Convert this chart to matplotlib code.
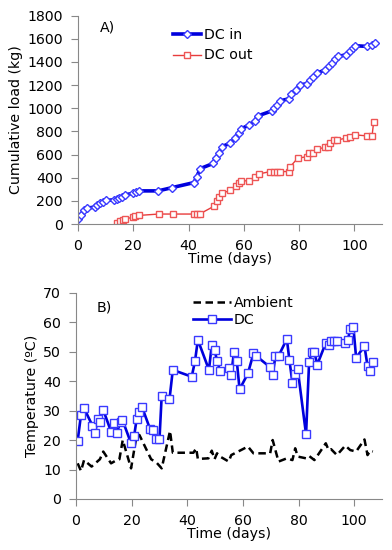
import matplotlib
matplotlib.use("Agg")
import matplotlib.pyplot as plt

# A) cumulative load (kg)
days_in = [0, 1.2, 2, 3.3, 6, 7, 8, 9, 10, 13, 14, 15, 16, 17, 20, 21, 22, 29, 34,
           42, 43, 44.2, 49, 50, 51.2, 52, 55, 56.9, 58.1, 59, 62, 63.9, 65.1,
           70.2, 71, 72, 73.2, 76.2, 77.2, 79, 80.2, 82.8, 84, 85, 86.5, 89.5,
           90.7, 91.9, 92.9, 94.1, 97.1, 98.3, 99.5, 100.1, 104.6, 106.4, 107.4]
load_in = [46, 80, 123, 137, 146, 166, 180, 191, 203, 209, 217, 226, 237, 251, 266,
           277, 286, 286, 314, 358, 408, 478, 524, 567, 616, 668, 697, 740, 782,
           822, 856, 891, 934, 977, 1001, 1029, 1064, 1081, 1122, 1159, 1202,
           1211, 1246, 1269, 1303, 1332, 1361, 1390, 1425, 1447, 1462, 1490,
           1520, 1540, 1534, 1548, 1565]

days_out = [14.1, 15.3, 16.3, 17.1, 20, 20.7, 22, 29.2, 34.3, 41.9, 43.1, 44,
            49.3, 50.3, 51.1, 52.1, 55.1, 57, 58.1, 59, 62, 64.2, 65.4, 69.6,
            70.8, 72, 73.2, 76.2, 76.8, 79.5, 82.9, 83.7, 85, 86.5, 89.5, 90.5,
            91.2, 92.6, 93.8, 97.1, 98.3, 100.1, 104.6, 106.4, 107]
load_out = [9, 23, 37, 46, 57, 66, 74, 86, 86, 86, 86, 86, 155, 202, 237, 266,
            290, 331, 355, 373, 373, 410, 432, 453, 453, 453, 453, 453, 496, 568,
            582, 611, 617, 646, 663, 669, 698, 727, 727, 741, 755, 770, 761, 761,
            885]

# B) temperature (ºC)
days_dc = [0.6, 1.8, 2.9, 5.9, 6.8, 7.8, 8.6, 9.8, 12.6, 13.5, 14.6, 16, 16.7,
           19.8, 20.9, 21.8, 22.8, 23.7, 26.6, 27.8, 28.8, 30, 30.8, 33.6, 34.8,
           41.6, 42.8, 43.8, 47.8, 48.8, 49.8, 50.7, 51.8, 54.9, 55.8, 56.8,
           57.8, 58.8, 61.8, 63.8, 64.7, 69.8, 70.7, 71.7, 72.8, 75.8, 76.7,
           77.8, 78.8, 79.7, 82.7, 83.8, 84.8, 85.7, 86.7, 89.8, 90.8, 91.7,
           92.9, 93.8, 96.8, 97.7, 98.6, 99.7, 100.7, 103.7, 104.8, 105.8, 106.7]
temp_dc = [19.8, 28.6, 30.8, 24.9, 22.3, 27.1, 26.2, 30.2, 22.9, 25.9, 22.3,
           26.2, 26.8, 18.9, 21.4, 27.1, 29.6, 31.3, 23.8, 23.4, 20.2, 20.2,
           35.0, 33.8, 43.8, 41.5, 46.9, 54.0, 43.8, 52.3, 50.6, 46.9, 43.5,
           44.6, 42.1, 50.0, 46.9, 37.2, 42.6, 49.4, 48.6, 44.7, 42.1, 48.6,
           48.5, 54.3, 47.2, 39.5, 42.3, 44.0, 21.9, 46.6, 50.0, 50.0, 45.5,
           53.0, 52.3, 53.6, 53.6, 53.7, 53.0, 54.0, 57.6, 58.5, 47.9, 51.9,
           45.1, 43.5, 46.4]

days_amb = [0.6, 1.8, 2.9, 5.6, 8.6, 9.8, 12.6, 14.6, 15.6, 16.8, 19.8, 21.8,
            22.8, 27, 29, 30.8, 33.8, 34.8, 42.2, 43.2, 43.8, 47.6, 48.8, 49.8,
            50.7, 51.8, 54.9, 55.8, 61.8, 63.8, 69.8, 70.7, 72.8, 75.8, 77.8,
            78.8, 79.7, 82.7, 83.8, 85.7, 87.8, 89.8, 90.8, 91.7, 93.8, 96.8,
            98.6, 100.7, 103.7, 104.8, 105.8, 106.7]
temp_amb = [12.1, 9.5, 13.2, 11.0, 13.5, 16.1, 12.1, 13.2, 13.5, 20.0, 10.4,
            21.7, 21.7, 13.5, 12.3, 10.4, 23.1, 15.7, 15.7, 17.2, 13.6, 13.8,
            16.4, 13.5, 15.5, 14.4, 12.7, 14.9, 17.8, 15.5, 15.5, 20.0, 12.7,
            13.8, 13.2, 17.2, 14.4, 13.8, 14.6, 13.2, 16.1, 18.9, 16.6, 16.9,
            14.9, 18.1, 16.6, 16.1, 20.2, 14.9, 16.4, 16.1]

plt.rcParams['font.family'] = ['DejaVu Sans']
fs = 10.2

fig = plt.figure(figsize=(3.92, 5.5), dpi=100)
W, H = 392, 550
ax1 = fig.add_axes([78 / W, 1 - 224 / H, (382 - 78) / W, (224 - 15.6) / H])
ax2 = fig.add_axes([76 / W, 1 - 499 / H, (382 - 76) / W, (499 - 292.7) / H])

blue = '#0000dd'
mblue = '#3a3aff'
red = '#e83c3c'

ax1.plot(days_in, load_in, color=blue, lw=2.6, marker='D', ms=4.3,
         mfc='white', mec=mblue, mew=1.0, label='DC in')
ax1.plot(days_out, load_out, color=red, lw=1.0, marker='s', ms=4.5,
         mfc='white', mec='#ee5555', mew=1.0, label='DC out')
ax1.set_xlim(0, 110)
ax1.set_ylim(0, 1800)
ax1.set_xticks(range(0, 101, 20))
ax1.set_yticks(range(0, 1801, 200))
ax1.set_xlabel('Time (days)', labelpad=-1, fontsize=fs)
ax1.set_ylabel('Cumulative load (kg)', fontsize=fs, labelpad=3)
ax1.text(8, 1695, 'A)', va='center', ha='left', fontsize=fs)
ax1.legend(loc='upper left', bbox_to_anchor=(0.3125, 0.94), frameon=False,
           handlelength=2.0, handletextpad=0.2, borderaxespad=0, borderpad=0,
           labelspacing=0.45, fontsize=fs)

ax2.plot(days_amb, temp_amb, color='black', lw=1.8, ls=(0, (3, 1.8)),
         label='Ambient')
ax2.plot(days_dc, temp_dc, color=blue, lw=1.9, marker='s', ms=5.2,
         mfc='white', mec=mblue, mew=1.0, label='DC')
ax2.set_xlim(0, 110)
ax2.set_ylim(0, 70)
ax2.set_xticks(range(0, 101, 20))
ax2.set_yticks(range(0, 71, 10))
ax2.set_xlabel('Time (days)', labelpad=-1, fontsize=fs)
ax2.set_ylabel('Temperature (ºC)', fontsize=fs, labelpad=3)
ax2.text(7.5, 65, 'B)', va='center', ha='left', fontsize=fs)
ax2.legend(loc='upper left', bbox_to_anchor=(0.382, 0.985), frameon=False,
           handlelength=2.7, handletextpad=0.2, borderaxespad=0, borderpad=0,
           labelspacing=0.2, fontsize=fs)

for ax in (ax1, ax2):
    for s in ('top', 'right'):
        ax.spines[s].set_visible(False)
    for s in ('left', 'bottom'):
        ax.spines[s].set_color('#888888')
        ax.spines[s].set_linewidth(0.8)
    ax.tick_params(direction='out', length=5, color='#888888', labelsize=fs,
                   pad=6)

fig.savefig('out.png', dpi=100)
